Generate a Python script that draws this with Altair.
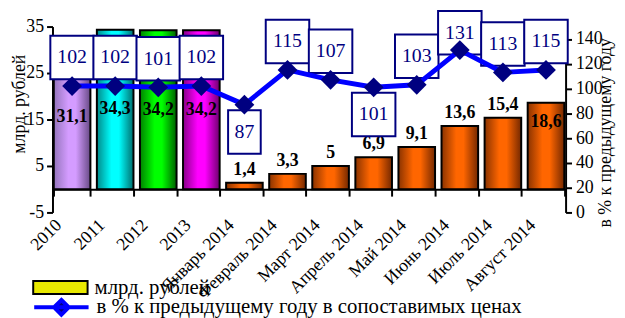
import altair as alt
import pandas as pd
import json

categories = ["2010", "2011", "2012", "2013", "Январь 2014", "Февраль 2014",
              "Март 2014", "Апрель 2014", "Май 2014", "Июнь 2014", "Июль 2014", "Август 2014"]
values = [31.1, 34.3, 34.2, 34.2, 1.4, 3.3, 5, 6.9, 9.1, 13.6, 15.4, 18.6]
percent = [102, 102, 101, 102, 87, 115, 107, 101, 103, 131, 113, 115]
groups = ["2010", "2011", "2012", "2013"] + ["2014"] * 8

series_bar = "млрд. рублей"
series_line = "в % к предыдущему году в сопоставимых ценах"
right_title = "в % к предыдущему году"

df = pd.DataFrame({"cat": categories, "val": values, "pct": percent, "grp": groups})

FONT = "Liberation Serif"
NAVY = "#000080"
BLUE = "#0000ff"

# label placement styles
BELOW = ["Январь 2014", "Апрель 2014"]
INSIDE = ["Август 2014"]
below_js = json.dumps(BELOW, ensure_ascii=False)
inside_js = json.dumps(INSIDE, ensure_ascii=False)
inside_expr = "indexof(%s, datum.cat) >= 0" % inside_js
month_expr = "datum.grp == '2014' && indexof(%s, datum.cat) < 0" % inside_js


def grad(left, mid, right):
    return {"gradient": "linear", "x1": 0, "y1": 0, "x2": 1, "y2": 0,
            "stops": [{"offset": 0, "color": left}, {"offset": 0.4, "color": mid},
                      {"offset": 0.6, "color": mid}, {"offset": 1, "color": right}]}


GRADS = {
    "2010": grad("#9474bc", "#d49cff", "#684a86"),
    "2011": grad("#008a8a", "#00ffff", "#006e6e"),
    "2012": grad("#008200", "#00ff00", "#006000"),
    "2013": grad("#880088", "#ff00ff", "#6e006e"),
    "2014": grad("#8a3300", "#ff6600", "#742800"),
}

SQ3 = "M-1,-1H1V1H-1Z"
SQ2 = "M-0.75,-1H0.75V1H-0.75Z"
RECT_PATH = "M-1,-0.24H1V0.24H-1Z"
LINE_PATH = "M-1,0H1M0,-0.27L0.27,0L0,0.27L-0.27,0Z"

base = alt.Chart(df).transform_calculate(
    lbl="replace(toString(datum.val), '.', ',')",
    half="datum.val / 2",
    nd="toString(length(toString(datum.pct)))",
    ptxt="toString(datum.pct)",
    # label box anchor: above the point (kept inside the plot) or below it
    ly="indexof(%s, datum.cat) >= 0 ? datum.pct - 22 : min(datum.pct + 23, 145)" % below_js,
)

x_axis = alt.Axis(title=None, orient="bottom", offset=-23.5, domainColor="black", domainWidth=2,
                  tickColor="black", tickWidth=2, tickSize=7, tickBand="extent",
                  labelAngle=315, labelFont=FONT, labelFontSize=18, labelColor="black",
                  labelPadding=20, labelOffset=-20, labelOverlap=False)
x_enc = alt.X("cat:N", sort=categories,
              scale=alt.Scale(paddingInner=0.15, paddingOuter=0.03), axis=x_axis)

yl_scale = alt.Scale(domain=[-5, 35], nice=False, zero=False)
left_axis = alt.Axis(values=[-5, 5, 15, 25, 35], title=series_bar, titleFont=FONT,
                     titleFontSize=18, titleFontWeight="normal", titleColor="black",
                     titleX=-33, titleY=78, titleBaseline="middle", titleAngle=270,
                     labelExpr="toString(datum.value)",
                     labelFont=FONT, labelFontSize=18, labelColor="black", labelPadding=3,
                     tickColor="black", tickWidth=2, tickSize=6,
                     domainColor="black", domainWidth=2, grid=False)


def yl(field):
    return alt.Y(field, scale=yl_scale, axis=left_axis)


bar_layers = []
for g in GRADS:
    bar_layers.append(
        base.transform_filter("datum.grp == '%s'" % g)
        .mark_bar(fill=GRADS[g], stroke="black", strokeWidth=2)
        .encode(x=x_enc, y=yl("val:Q"), y2=alt.datum(0))
    )

txt = dict(font=FONT, fontSize=18, fontWeight="bold", color="black", baseline="middle")
year_lbl = base.transform_filter("datum.grp != '2014'").mark_text(**txt).encode(
    x=x_enc, y=yl("half:Q"), text="lbl:N")
month_lbl = base.transform_filter(month_expr).mark_text(dy=-13, **txt).encode(
    x=x_enc, y=yl("val:Q"), text="lbl:N")
inside_lbl = base.transform_filter(inside_expr).mark_text(dy=20, **txt).encode(
    x=x_enc, y=yl("val:Q"), text="lbl:N")

left = alt.layer(*bar_layers, year_lbl, month_lbl, inside_lbl)

yr_scale = alt.Scale(domain=[0, 150], nice=False, zero=False)
right_axis = alt.Axis(orient="right", values=[0, 20, 40, 60, 80, 100, 120, 140],
                      title=right_title, titleFont=FONT, titleFontSize=18,
                      titleFontWeight="normal", titleColor="black", titleAngle=270,
                      titleX=40, titleY=107, titleBaseline="middle",
                      labelFont=FONT, labelFontSize=18, labelColor="black", labelPadding=4,
                      tickColor="black", tickWidth=2, tickSize=6,
                      domainColor="black", domainWidth=2, grid=False)


def yr(field):
    return alt.Y(field, scale=yr_scale, axis=right_axis)


shape_enc = alt.Shape("nd:N", scale=alt.Scale(domain=["3", "2"], range=[SQ3, SQ2]), legend=None)

boxes = base.mark_point(filled=True, fill="white", stroke=NAVY, strokeWidth=2, opacity=1,
                        size=1936).encode(x=x_enc, y=yr("ly:Q"), shape=shape_enc)
texts = base.mark_text(font=FONT, fontSize=20, color=NAVY, baseline="middle").encode(
    x=x_enc, y=yr("ly:Q"), text="ptxt:N")
line = base.mark_line(color=BLUE, strokeWidth=5).encode(x=x_enc, y=yr("pct:Q"))
pts = base.mark_point(shape="diamond", filled=True, color=NAVY, size=400, opacity=1).encode(
    x=x_enc, y=yr("pct:Q"))

right = alt.layer(boxes, texts, line, pts)

leg_common = dict(title=None, orient="none", symbolSize=3025, labelFont=FONT,
                  labelFontSize=21, labelColor="black", labelOffset=6, padding=0,
                  symbolOpacity=1, labelLimit=0)

leg1 = base.transform_filter("false").transform_calculate(s1="'%s'" % series_bar).mark_point(
    filled=True, opacity=1).encode(
    fill=alt.Fill("s1:N", scale=alt.Scale(domain=[series_bar], range=["#e8e800"]),
                  legend=alt.Legend(legendX=-20.5, legendY=235.5, symbolType=RECT_PATH,
                                    symbolStrokeColor="black", symbolStrokeWidth=2,
                                    **leg_common)))
leg2 = base.transform_filter("false").transform_calculate(s2="'%s'" % series_line).mark_point(
    filled=True, opacity=1).encode(
    fill=alt.Fill("s2:N", scale=alt.Scale(domain=[series_line], range=[NAVY]),
                  legend=alt.Legend(legendX=-20.5, legendY=254.5, symbolType=LINE_PATH,
                                    symbolStrokeColor=BLUE, symbolStrokeWidth=4,
                                    **leg_common)))

chart = alt.layer(left, right, leg1, leg2).resolve_scale(
    y="independent", fill="independent"
).resolve_legend(fill="independent").properties(
    width=519, height=188,
    autosize=alt.AutoSizeParams(type="none"),
    padding={"left": 45, "top": 17, "right": 52, "bottom": 105},
).configure_view(stroke=None).configure_axis(
    labelFont=FONT, labelFontSize=18, labelColor="black",
    titleFont=FONT, titleFontSize=18, titleFontWeight="normal", titleColor="black",
)

chart.save("out.html", embed_options={"renderer": "svg", "actions": False})
